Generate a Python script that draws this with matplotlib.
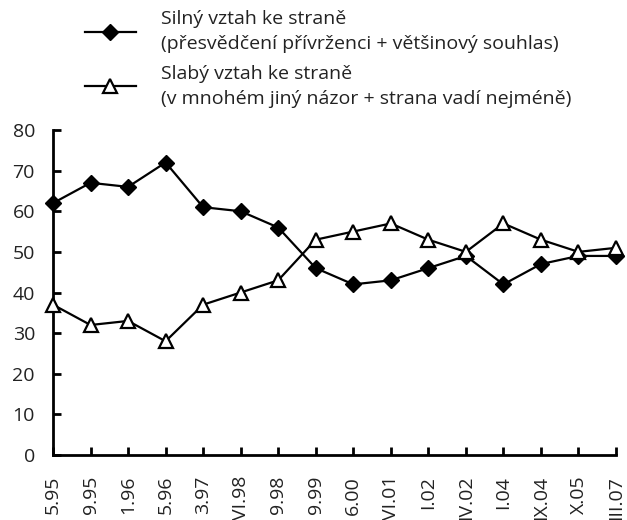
import matplotlib
matplotlib.use("Agg")
import matplotlib.pyplot as plt

plt.rcParams['font.family'] = ['Open Sans', 'DejaVu Sans']

categories = ["5.95", "9.95", "1.96", "5.96", "3.97", "VI.98", "9.98", "9.99",
              "6.00", "VI.01", "I.02", "IV.02", "I.04", "IX.04", "X.05", "III.07"]
strong = [62, 67, 66, 72, 61, 60, 56, 46, 42, 43, 46, 49, 42, 47, 49, 49]
weak = [37, 32, 33, 28, 37, 40, 43, 53, 55, 57, 53, 50, 57, 53, 50, 51]
label_strong = "Silný vztah ke straně\n(přesvědčení přívrženci + většinový souhlas)"
label_weak = "Slabý vztah ke straně\n(v mnohém jiný názor + strana vadí nejméně)"

fig = plt.figure(figsize=(6.27, 5.2), dpi=100)
ax = fig.add_axes([53/627, 1-455/520, (616-53)/627, (455-130)/520])

x = list(range(len(categories)))
l1, = ax.plot(x, strong, color='black', lw=1.6, marker='D', markersize=8.5,
              markerfacecolor='black', markeredgecolor='black', clip_on=False, zorder=3)
l2, = ax.plot(x, weak, color='black', lw=1.6, marker='^', markersize=10.5,
              markerfacecolor='white', markeredgecolor='black', markeredgewidth=1.6,
              clip_on=False, zorder=3)

ax.set_xlim(0, len(categories) - 1)
ax.set_ylim(0, 80)
ax.set_yticks(range(0, 81, 10))
ax.set_xticks(x)
ax.set_xticklabels(categories, rotation=90, va='top', ha='center')
for s in ['top', 'right']:
    ax.spines[s].set_visible(False)
for s in ['left', 'bottom']:
    ax.spines[s].set_linewidth(2)
ax.tick_params(axis='both', direction='in', length=5.5, width=2, labelsize=14,
               colors='black', labelcolor='#222222')
ax.tick_params(axis='y', pad=13)
ax.tick_params(axis='x', pad=15)

leg = fig.legend([l1, l2], [label_strong, label_weak], loc='upper left',
                 bbox_to_anchor=(85/627, 1-10/520), frameon=False, fontsize=14,
                 handlelength=2.6, handletextpad=1.3, labelspacing=0.6,
                 borderpad=0, borderaxespad=0, labelcolor='#222222')
for t in leg.get_texts():
    t.set_linespacing(1.5)

fig.savefig("out.png", dpi=100)
